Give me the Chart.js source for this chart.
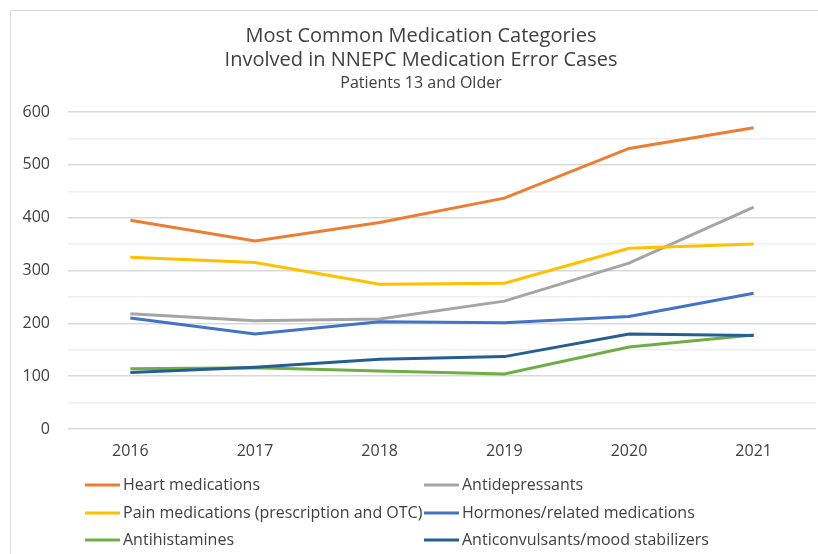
<!DOCTYPE html>
<html>
<head>
<meta charset="utf-8">
<title>NNEPC Medication Error Cases</title>
<script src="https://cdn.jsdelivr.net/npm/chart.js@4.4.1/dist/chart.umd.min.js"></script>
<style>
  html, body { margin: 0; padding: 0; background: #fff; }
  .wrap { position: relative; width: 818px; height: 554px; overflow: hidden; }
  .frame { position: absolute; left: 10px; top: 10px; width: 900px; height: 700px;
           border-left: 1px solid #d9d9d9; border-top: 1px solid #d9d9d9; }
  canvas { position: absolute; left: 0; top: 0; }
</style>
</head>
<body>
<div class="wrap">
  <div class="frame"></div>
  <canvas id="medChart" width="818" height="554"></canvas>
</div>
<script>
// ── Data ──────────────────────────────────────────────────
const years           = ['2016','2017','2018','2019','2020','2021'];
const heartMeds       = [395, 356, 391, 437, 531, 570];
const antidepressants = [218, 205, 208, 242, 314, 420];
const painMeds        = [325, 315, 274, 276, 342, 350];
const hormones        = [210, 180, 203, 201, 213, 257];
const antihistamines  = [114, 116, 110, 104, 155, 178];
const anticonvulsants = [107, 117, 132, 137, 180, 177];

const seriesNames  = ['Heart medications','Antidepressants','Pain medications (prescription and OTC)',
                      'Hormones/related medications','Antihistamines','Anticonvulsants/mood stabilizers'];
const seriesData   = [heartMeds, antidepressants, painMeds, hormones, antihistamines, anticonvulsants];
const seriesColors = ['#ED7D31','#A5A5A5','#FFC000','#4472C4','#70AD47','#255E91'];

const titleLines = ['Most Common Medication Categories','Involved in NNEPC Medication Error Cases'];
const subtitle   = 'Patients 13 and Older';

const FONT = "'Open Sans', 'DejaVu Sans', sans-serif";
const TEXT = '#404040';

// ── Title + two-column legend drawn on the canvas ─────────
const decorPlugin = {
  id: 'decor',
  afterDraw(chart) {
    const ctx = chart.ctx;
    ctx.save();
    ctx.textAlign = 'center';
    ctx.textBaseline = 'middle';
    ctx.fillStyle = '#404040';
    ctx.font = '20px ' + FONT;
    ctx.fillText(titleLines[0], 421, 36);
    ctx.fillText(titleLines[1], 421, 60);
    ctx.font = '16px ' + FONT;
    ctx.fillText(subtitle, 421, 83);

    // legend rows, two columns, row-wise order
    const rowsY = [485, 513, 540];
    const cols  = [{ x0: 85, x1: 120, tx: 123 }, { x0: 424, x1: 459, tx: 462 }];
    ctx.textAlign = 'left';
    ctx.font = '16px ' + FONT;
    chart.data.datasets.forEach((ds, i) => {
      const c = cols[i % 2];
      const y = rowsY[Math.floor(i / 2)];
      ctx.strokeStyle = ds.borderColor;
      ctx.lineWidth = 3;
      ctx.beginPath();
      ctx.moveTo(c.x0, y);
      ctx.lineTo(c.x1, y);
      ctx.stroke();
      ctx.fillStyle = TEXT;
      ctx.fillText(ds.label, c.tx, y);
    });
    ctx.restore();
  }
};

const datasets = seriesData.map((d, i) => ({
  label: seriesNames[i],
  data: d,
  borderColor: seriesColors[i],
  backgroundColor: seriesColors[i],
  borderWidth: 3,
  pointRadius: 0,
  tension: 0,
  fill: false,
  order: seriesData.length - 1 - i   // later series drawn on top
}));

new Chart(document.getElementById('medChart'), {
  type: 'line',
  data: { labels: years, datasets },
  plugins: [decorPlugin],
  options: {
    responsive: false,
    animation: false,
    layout: { padding: { top: 112, left: 0, right: 2, bottom: 85 } },
    plugins: {
      legend: { display: false },
      title: { display: false },
      tooltip: { enabled: false }
    },
    scales: {
      x: {
        offset: true,
        grid: { display: false, drawTicks: false },
        border: { display: false },
        ticks: { color: TEXT, font: { family: FONT, size: 16 }, padding: 13 },
        afterFit(scale) { scale.height = 40; }
      },
      y: {
        min: 0,
        max: 600,
        border: { display: false },
        grid: {
          drawTicks: false,
          lineWidth: 1.5,
          color: c => (c.tick && c.tick.value % 100 === 0) ? '#d9d9d9' : '#efefef'
        },
        ticks: {
          stepSize: 50,
          color: TEXT,
          font: { family: FONT, size: 16 },
          padding: 18,
          callback: v => (v % 100 === 0 ? v : '')
        },
        afterFit(scale) { scale.width = 68; }
      }
    }
  }
});
</script>
</body>
</html>
